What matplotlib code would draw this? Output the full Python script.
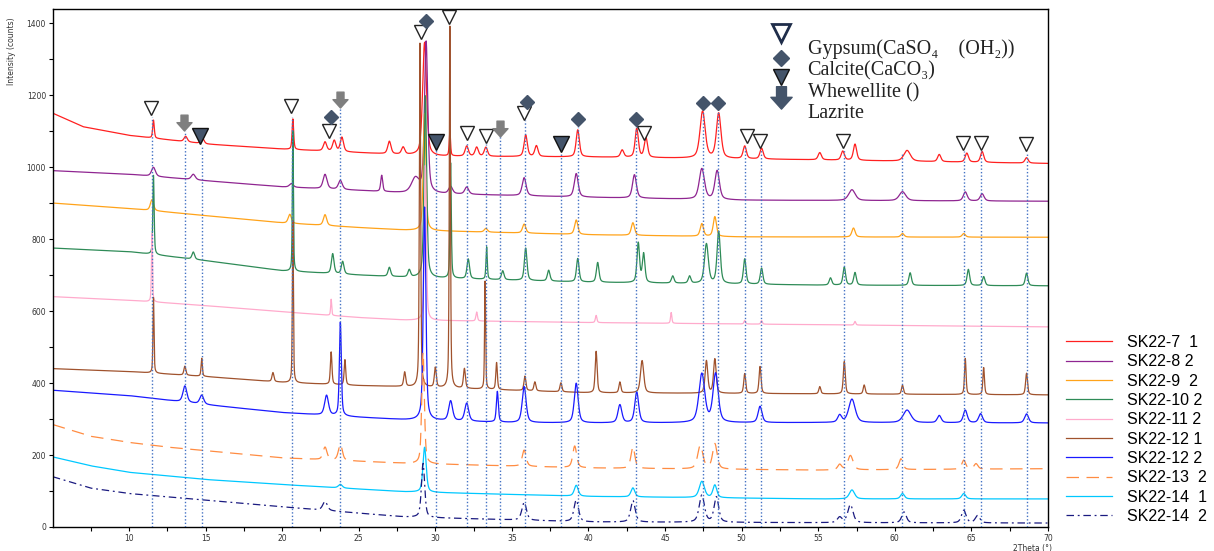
import numpy as np
import matplotlib
matplotlib.use('Agg')
import matplotlib.pyplot as plt
from matplotlib.path import Path

# --- series: labels, colours, line styles
labels = ['SK22-7  1', 'SK22-8 2', 'SK22-9  2', 'SK22-10 2', 'SK22-11 2',
          'SK22-12 1', 'SK22-12 2', 'SK22-13  2', 'SK22-14  1', 'SK22-14  2']
colors = ['#ff2020', '#8f2591', '#ffa31a', '#2e8b57', '#ffaacc',
          '#a0522d', '#1a1aff', '#ff8c42', '#00c8ff', '#1a1a80']
styles = ['-', '-', '-', '-', '-', '-', '-', (0, (10, 6)), '-', (0, (6, 3, 1.5, 3))]
widths = [0.25, 0.3, 0.25, 0.2, 0.12, 0.15, 0.3, 0.3, 0.3, 0.35]

# baseline (2theta, counts)
base_sk7_1 = [(5, 1150), (7, 1112), (10, 1088), (15, 1064), (20, 1050), (25, 1040), (30, 1030), (40, 1028), (55, 1020), (70, 1010)]
base_sk8_2 = [(5, 990), (10, 980), (15, 962), (20, 945), (25, 935), (28, 928), (40, 916), (50, 908), (70, 905)]
base_sk9_2 = [(5, 900), (10, 885), (15, 865), (20, 845), (25, 832), (28, 825), (40, 812), (50, 806), (70, 805)]
base_sk10_2 = [(5, 775), (10, 765), (15, 740), (20, 712), (25, 700), (28, 694), (40, 680), (55, 672), (70, 670)]
base_sk11_2 = [(5, 640), (10, 630), (15, 615), (20, 598), (25, 582), (28, 575), (40, 568), (55, 562), (70, 556)]
base_sk12_1 = [(5, 440), (10, 432), (15, 418), (20, 402), (25, 393), (28, 390), (35, 380), (40, 373), (55, 370), (70, 367)]
base_sk12_2 = [(5, 380), (10, 365), (15, 340), (20, 318), (25, 305), (28, 298), (35, 290), (40, 289), (55, 290), (70, 289)]
base_sk13_2 = [(5, 285), (7.5, 252), (10, 235), (12.5, 222), (20, 192), (28, 177), (40, 164), (55, 158), (70, 162)]
base_sk14_1 = [(5, 195), (7.5, 170), (10, 152), (15, 132), (20, 118), (28, 98), (40, 85), (55, 78), (70, 78)]
base_sk14_2 = [(5, 140), (7.5, 108), (10, 93), (12.5, 84), (20, 56), (28, 28), (40, 14), (55, 12), (70, 11)]

# peaks (position, height above baseline[, fwhm])
peaks_sk7_1 = [(11.6, 50, 0.12), (13.7, 15), (14.8, 15), (20.7, 85, 0.12), (22.8, 25), (23.4, 30), (23.9, 40),
               (27.0, 35), (27.9, 20), (29.3, 315, 0.3), (30.95, 70, 0.1), (32.05, 28), (32.7, 25), (33.3, 25),
               (35.9, 60), (36.6, 30), (39.3, 75), (42.2, 20), (43.15, 80), (43.75, 55), (47.45, 130, 0.4),
               (48.5, 125, 0.35), (50.2, 35), (51.3, 30), (55.1, 20), (56.6, 25), (57.4, 45), (60.8, 30, 0.5),
               (62.9, 20), (64.7, 25), (65.7, 30), (68.6, 15)]
peaks_sk8_2 = [(11.6, 25), (14.2, 15), (20.6, 10), (22.8, 40), (23.8, 25), (26.5, 45, 0.15), (28.7, 40, 0.6),
               (29.4, 420, 0.25), (31.0, 20), (32.05, 20), (35.8, 50), (39.2, 65), (43.0, 65), (47.4, 85, 0.4),
               (48.4, 80, 0.35), (57.2, 30, 0.5), (60.5, 25, 0.5), (64.6, 25), (65.7, 20)]
peaks_sk9_2 = [(11.5, 30), (20.5, 25), (22.8, 30), (29.3, 325, 0.2), (33.3, 10), (35.8, 25), (39.2, 40), (42.9, 35),
               (47.4, 35), (48.25, 55), (57.3, 25), (60.5, 10), (64.5, 10)]
peaks_sk10_2 = [(11.6, 220, 0.1), (14.2, 20), (20.7, 390, 0.08), (23.3, 55), (23.95, 35), (27.0, 25), (28.3, 20),
                (29.35, 505, 0.2), (31.0, 320, 0.1), (32.15, 55), (33.35, 90, 0.1), (34.4, 25), (35.9, 90),
                (37.4, 30), (39.3, 65), (40.6, 55), (43.25, 110), (43.6, 80), (45.5, 20), (46.6, 20),
                (47.7, 110, 0.3), (48.5, 145, 0.25), (50.2, 70), (51.3, 45), (55.8, 20), (56.7, 50), (57.4, 35),
                (61.0, 35), (64.8, 45), (65.8, 25), (68.6, 35)]
peaks_sk11_2 = [(11.5, 190, 0.08), (23.2, 45, 0.08), (29.35, 430, 0.15), (32.7, 25), (40.5, 20), (45.4, 30, 0.1),
                (50.2, 10), (51.3, 10), (57.4, 10)]
peaks_sk12_1 = [(11.6, 210, 0.08), (13.65, 25), (14.75, 50, 0.1), (19.4, 25), (20.7, 450, 0.08), (23.2, 90, 0.12),
                (24.1, 70, 0.12), (28.0, 40), (29.0, 955, 0.1), (30.0, 55), (30.95, 1005, 0.09), (31.9, 55),
                (33.25, 300, 0.08), (34.0, 75, 0.12), (35.85, 40), (36.5, 25), (38.2, 25), (40.5, 115, 0.15),
                (42.05, 30), (43.5, 90, 0.25), (47.7, 90, 0.2), (48.25, 95, 0.2), (50.2, 55), (51.2, 75),
                (55.1, 20), (56.7, 90, 0.15), (58.0, 25), (60.5, 25), (64.6, 100, 0.12), (65.8, 75, 0.12),
                (68.6, 60, 0.15)]
peaks_sk12_2 = [(13.65, 45), (14.75, 25), (22.9, 55), (23.8, 260, 0.15), (29.3, 592, 0.2), (31.0, 55), (32.05, 50),
                (34.05, 85, 0.15), (35.8, 100), (39.2, 110), (42.05, 50), (43.15, 85), (47.4, 135, 0.45),
                (48.3, 135, 0.4), (51.2, 45), (56.4, 20), (57.2, 65, 0.5), (60.8, 35, 0.6), (62.9, 20),
                (64.6, 35), (65.6, 25), (68.6, 25)]
peaks_sk13_2 = [(22.8, 35), (23.8, 45), (29.2, 310, 0.2), (35.8, 45), (39.1, 60), (42.9, 60), (47.3, 65, 0.4),
                (48.25, 70, 0.35), (56.4, 15), (57.1, 40, 0.4), (60.4, 30), (64.5, 25), (65.3, 15)]
peaks_sk14_1 = [(23.8, 10), (29.3, 125, 0.25), (39.2, 30), (42.9, 25), (47.4, 45, 0.4), (48.25, 35),
                (57.2, 25, 0.4), (60.5, 15), (64.5, 15)]
peaks_sk14_2 = [(22.8, 25), (29.2, 150, 0.25), (35.8, 50), (39.2, 60), (42.9, 60), (47.4, 75, 0.4),
                (48.35, 70, 0.35), (56.4, 15), (57.1, 50, 0.4), (60.6, 30), (64.5, 35), (65.4, 20)]

bases = [base_sk7_1, base_sk8_2, base_sk9_2, base_sk10_2, base_sk11_2,
         base_sk12_1, base_sk12_2, base_sk13_2, base_sk14_1, base_sk14_2]
peaks = [peaks_sk7_1, peaks_sk8_2, peaks_sk9_2, peaks_sk10_2, peaks_sk11_2,
         peaks_sk12_1, peaks_sk12_2, peaks_sk13_2, peaks_sk14_1, peaks_sk14_2]

# phase markers (2theta, counts)
gyp_x = [11.45, 20.6, 23.05, 29.05, 30.9, 32.05, 33.3, 35.8, 43.6, 50.35, 51.2, 56.6, 64.45, 65.6, 68.55]
gyp_y = [1164, 1169, 1100, 1375, 1417, 1094, 1086, 1150, 1094, 1086, 1072, 1072, 1067, 1067, 1064]
cal_x = [23.2, 29.4, 36.0, 39.3, 43.1, 47.45, 48.45]
cal_y = [1139, 1406, 1181, 1133, 1133, 1178, 1178]
whe_x = [14.65, 30.05, 38.2]
whe_y = [1086, 1069, 1064]
laz_x = [13.6, 23.8, 34.2]
laz_y = [1122, 1186, 1106]

ref_x = [11.5, 13.65, 14.8, 20.65, 23.8, 30.05, 32.05, 33.3, 34.2, 35.85, 38.2, 39.3, 43.1, 47.45, 48.45,
         50.2, 51.25, 56.7, 60.45, 64.5, 65.65, 68.6]
ref_top = [1140, 1100, 1060, 1140, 1160, 1050, 1070, 1065, 1085, 1130, 1040, 1110, 1110, 1155, 1155,
           1060, 1050, 1050, 1035, 1045, 1045, 1040]

# legend symbol column
key_x = 52.56
key_text_x = 54.3
key_labels = ['Gypsum(CaSO\u2084\u3000(OH\u2082))', 'Calcite(CaCO\u2083)', 'Whewellite ()', 'Lazrite']
key_text_y = [1328, 1267, 1207, 1149]

x = np.linspace(5, 70, 6501)


def profile(base, plist, w0):
    bx, by = zip(*base)
    y = np.interp(x, bx, by)
    for p in plist:
        pos, h = p[0], p[1]
        w = p[2] if len(p) > 2 else w0
        u = (x - pos) / (w / 2)
        y = y + h * (0.5 / (1 + u ** 2) + 0.5 * np.exp(-np.log(2) * u ** 2))
    return y


# thick down arrow used for Lazrite
arrow = Path([(-0.42, 1), (0.42, 1), (0.42, 0.1), (0.9, 0.1), (0, -0.9), (-0.9, 0.1), (-0.42, 0.1), (-0.42, 1)],
             [Path.MOVETO] + [Path.LINETO] * 6 + [Path.CLOSEPOLY])

fig = plt.figure(figsize=(12.14, 5.51), dpi=100)
ax = fig.add_axes([53 / 1214, 24 / 551, 995 / 1214, 518 / 551])

handles = []
for i in range(len(labels)):
    ln, = ax.plot(x, profile(bases[i], peaks[i], widths[i]), color=colors[i], lw=0.9,
                  linestyle=styles[i], label=labels[i])
    handles.append(ln)

ax.vlines(ref_x, 0, ref_top, colors='#4472c4', linestyles=(0, (1, 1.5)), lw=1, zorder=3)

ax.plot(gyp_x, gyp_y, 'v', ms=10.5, mfc='white', mec='#222222', mew=1, zorder=5)
ax.plot(cal_x, cal_y, 'D', ms=7.5, mfc='#44546a', mec='#44546a', zorder=5)
ax.plot(whe_x, whe_y, 'v', ms=11, mfc='#44546a', mec='#111111', mew=1, zorder=5)
ax.plot(laz_x, laz_y, marker=arrow, ls='none', ms=12, mfc='#7f7f7f', mec='#7f7f7f', zorder=5)

# phase key
ax.plot([key_x], [1372], 'v', ms=13, mfc='white', mec='#1f2d4a', mew=2, zorder=5)
ax.plot([key_x], [1303], 'D', ms=8, mfc='#44546a', mec='#44546a', zorder=5)
ax.plot([key_x], [1249], 'v', ms=11, mfc='#44546a', mec='#111111', mew=1, zorder=5)
ax.plot([key_x], [1192], marker=arrow, ls='none', ms=17, mfc='#44546a', mec='#44546a', zorder=5)
for t, ty in zip(key_labels, key_text_y):
    ax.text(key_text_x, ty, t, fontsize=14.5, va='center', ha='left',
            family=['Liberation Serif', 'DejaVu Serif', 'Noto Sans CJK JP'], color='#222222')

ax.set_xlim(5.04, 70)
ax.set_ylim(0, 1439)
ax.set_xticks(range(10, 71, 5))
ax.set_xticks(np.arange(7.5, 70, 5), minor=True)
ax.set_yticks(range(0, 1401, 200))
ax.set_yticks(range(100, 1401, 200), minor=True)
ax.tick_params(which='both', direction='out', labelsize=5.5, labelcolor='#333333', length=3, width=0.8, pad=2)
for s in ax.spines.values():
    s.set_linewidth(1)

fig.text(12 / 1214, 1 - 17 / 551, 'Intensity (counts)', rotation=90, fontsize=5.5, va='top', ha='center',
         color='#333333')
fig.text(1052 / 1214, 1 - 548 / 551, '2Theta (\u00b0)', fontsize=5.5, ha='right', va='center', color='#333333')

fig.legend(handles, labels, loc='upper left', bbox_to_anchor=(1066 / 1214, 1 - 335 / 551), frameon=False,
           prop={'family': 'Liberation Sans', 'size': 11.5}, handlelength=2.9, handletextpad=0.9,
           labelspacing=0.27, borderpad=0, borderaxespad=0)

fig.savefig('out.png', dpi=100)
